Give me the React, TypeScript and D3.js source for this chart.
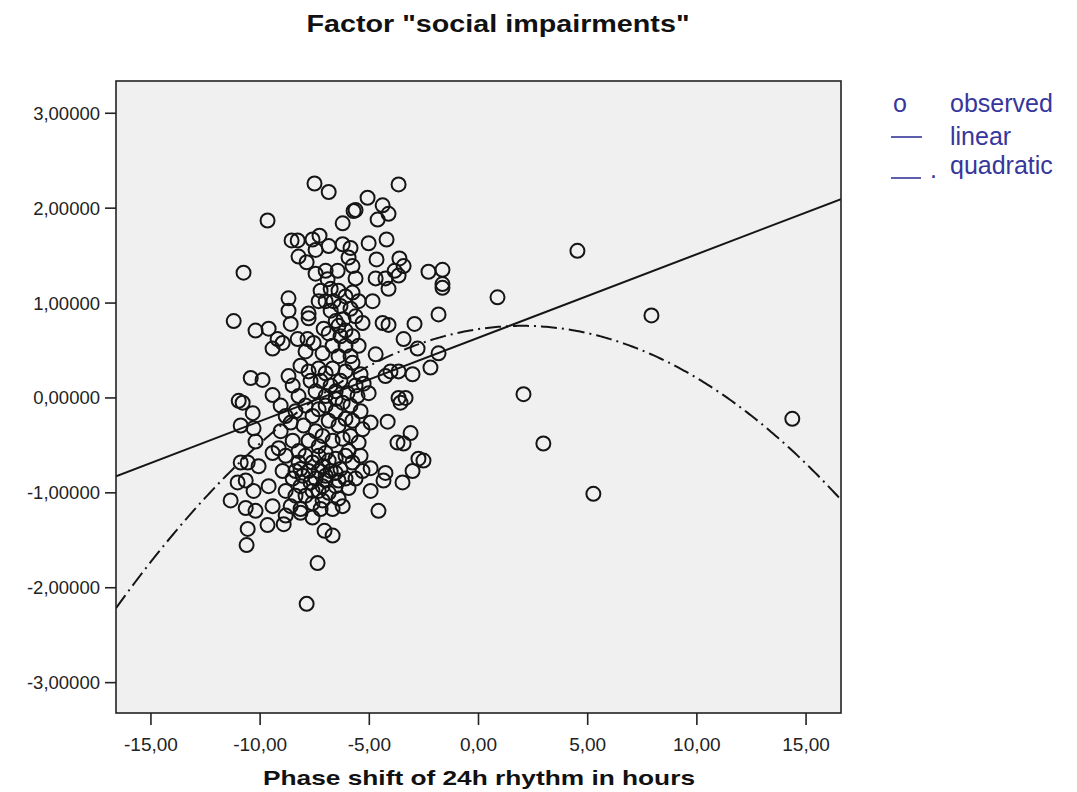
import React from "react";
import * as d3 from "d3";

// observed points: [phase shift (h), factor score]
const observed: [number, number][] = [
  [-7.51, 2.26], [-6.86, 2.17], [-3.66, 2.25], [-5.08, 2.11], [-5.63, 1.98], [-5.72, 1.97], [-4.39, 2.03], [-4.12, 1.94],
  [-4.62, 1.88], [-6.22, 1.84], [-9.66, 1.87], [-8.56, 1.66], [-8.28, 1.66], [-7.6, 1.67], [-7.28, 1.71], [-6.86, 1.6],
  [-8.24, 1.49], [-7.87, 1.43], [-7.46, 1.56], [-10.76, 1.32], [-7.46, 1.31], [-7.0, 1.34], [-6.91, 1.25], [-6.22, 1.62],
  [-5.86, 1.58], [-5.03, 1.63], [-4.21, 1.67], [-5.95, 1.48], [-4.67, 1.46], [-3.62, 1.47], [-3.43, 1.39], [-3.84, 1.34],
  [-5.77, 1.39], [-6.45, 1.34], [-5.63, 1.26], [-4.71, 1.26], [-4.26, 1.26], [-3.66, 1.29], [-2.29, 1.33], [-1.65, 1.35],
  [-1.65, 1.2],
  [-8.7, 1.05], [-8.7, 0.92], [-8.6, 0.78], [-11.21, 0.81], [-10.21, 0.71], [-9.61, 0.73], [-9.2, 0.62], [-9.43, 0.52],
  [-8.97, 0.58], [-8.28, 0.62], [-7.83, 0.62], [-7.55, 0.58], [-7.78, 0.89], [-7.78, 0.84], [-7.09, 0.73], [-7.0, 1.02],
  [-7.92, 0.49], [-8.15, 0.34], [-10.43, 0.21], [-9.89, 0.19], [-9.43, 0.03], [-10.98, -0.03], [-8.7, 0.23], [-8.51, 0.13],
  [-8.24, 0.02],
  [-6.41, 1.13], [-6.09, 1.07], [-5.77, 1.11], [-6.32, 0.97], [-5.86, 0.94], [-5.49, 1.02], [-6.18, 0.83], [-5.63, 0.86],
  [-5.31, 0.79], [-6.54, 0.81], [-6.77, 1.15], [-6.64, 1.02],
  [-4.85, 1.02], [-4.12, 1.15], [-1.65, 1.16], [-1.83, 0.88], [-4.39, 0.79], [-4.12, 0.77], [-2.93, 0.78], [-3.43, 0.62],
  [-2.79, 0.52], [-1.83, 0.47], [-2.2, 0.32], [-3.02, 0.25], [-4.71, 0.46], [-4.03, 0.28], [-4.26, 0.23], [-3.66, 0.28],
  [-5.03, 0.05], [-3.66, 0.0], [-3.34, 0.0], [-6.09, 0.55], [-5.77, 0.37], [-5.4, 0.25], [-5.26, 0.15], [-6.0, 0.05],
  [-7.32, 0.31], [-7.0, 0.26], [-6.68, 0.31], [-7.23, 0.18], [-6.77, 0.13], [-7.46, 0.07], [-7.0, 0.02], [-6.54, 0.07],
  [-7.69, 0.18], [-7.78, 0.28],
  [-10.8, -0.05], [-10.34, -0.16], [-10.89, -0.29], [-10.3, -0.32], [-10.21, -0.46], [-8.6, -0.26], [-9.43, -0.58],
  [-9.15, -0.53], [-10.89, -0.68], [-10.57, -0.68], [-10.07, -0.72], [-11.03, -0.89], [-10.66, -0.87], [-10.3, -0.98],
  [-9.61, -0.93], [-11.35, -1.08], [-10.66, -1.16], [-10.21, -1.19], [-9.43, -1.14],
  [-4.16, -0.25], [-4.94, -0.26], [-3.57, -0.05], [-3.11, -0.37], [-3.71, -0.47], [-3.43, -0.48], [-2.75, -0.64],
  [-2.52, -0.66], [-3.02, -0.77], [-3.48, -0.89], [-4.26, -0.79], [-4.35, -0.87], [-4.94, -0.74], [-4.94, -0.98],
  [-4.58, -1.19], [-5.63, -0.85], [-5.95, -0.95],
  [-10.57, -1.38], [-10.62, -1.55], [-9.66, -1.34], [-8.92, -1.33], [-7.6, -1.26], [-7.05, -1.4], [-6.68, -1.45],
  [-7.37, -1.74], [-7.87, -2.17],
  [0.87, 1.06], [4.53, 1.55], [7.92, 0.87], [2.06, 0.04], [2.97, -0.48], [5.26, -1.01], [14.37, -0.22],
  [-9.06, -0.08], [-8.83, -0.19], [-8.38, -0.14], [-9.06, -0.35], [-8.51, -0.45], [-8.83, -0.61], [-8.24, -0.56],
  [-8.97, -0.77], [-8.51, -0.85], [-8.15, -0.75], [-8.83, -0.98], [-8.38, -1.03], [-8.6, -1.14], [-8.15, -1.21],
  [-8.83, -1.24], [-7.92, -0.08], [-7.6, -0.19], [-7.32, -0.12], [-8.01, -0.29], [-7.46, -0.35], [-7.78, -0.45],
  [-7.32, -0.51], [-7.92, -0.61], [-7.6, -0.68], [-7.32, -0.77], [-8.05, -0.82], [-7.69, -0.89], [-7.32, -0.98],
  [-7.92, -1.03], [-7.6, -1.11], [-7.23, -1.17], [-8.15, -1.17], [-7.0, -0.08], [-6.54, -0.14], [-6.22, -0.05],
  [-6.86, -0.24], [-6.41, -0.29], [-6.09, -0.22], [-7.14, -0.4], [-6.68, -0.45], [-6.22, -0.43], [-7.0, -0.58],
  [-6.54, -0.64], [-6.09, -0.61], [-7.14, -0.72], [-6.77, -0.77], [-6.32, -0.75], [-7.0, -0.87], [-6.54, -0.93],
  [-6.09, -0.85], [-6.86, -1.0], [-6.41, -1.06], [-7.14, -1.08], [-6.68, -1.17], [-6.22, -1.14], [-5.86, -0.08],
  [-5.4, -0.14], [-5.77, -0.24], [-5.31, -0.33], [-5.86, -0.4], [-5.49, -0.47], [-5.95, -0.56], [-5.4, -0.61],
  [-5.77, -0.68], [-5.31, -0.77], [-7.23, 1.13], [-7.32, 1.02], [-6.77, 0.92], [-6.41, 0.76], [-6.86, 0.68],
  [-6.32, 0.65], [-6.68, 0.55], [-7.14, 0.47], [-6.09, 0.71], [-5.77, 0.65], [-5.49, 0.55], [-5.86, 0.44],
  [-6.41, 0.44], [-6.09, 0.28], [-5.63, 0.13], [-6.32, 0.18], [-6.54, -0.01], [-5.54, 0.02],
  [-8.24, -0.68], [-7.78, -0.77], [-7.46, -0.85], [-7.14, -0.93], [-6.86, -0.66], [-6.54, -0.79], [-8.15, -0.93],
  [-7.6, -0.98], [-7.0, -0.82], [-6.41, -0.87], [-8.38, -0.77], [-7.32, -0.61],
];

const xTicks = [-15, -10, -5, 0, 5, 10, 15];
const yTicks = [3, 2, 1, 0, -1, -2, -3];
const linearFit = { intercept: 0.635, slope: 0.088 };
const quadraticFit = { a: 0.7256, b: 0.0344, c: -0.0086 };
const legendLabels = ["observed", "linear", "quadratic"];
const titleText = 'Factor "social impairments"';
const xAxisTitle = "Phase shift of 24h rhythm in hours";

export default function App() {
  const W = 1077, H = 792;
  const left = 116, right = 841, top = 81, bottom = 713;
  const x = d3.scaleLinear().domain([-16.6, 16.6]).range([left, right]);
  const y = d3.scaleLinear().domain([-3.32, 3.34]).range([bottom, top]);
  const fmtY = (v: number) => d3.format(".5f")(v).replace(".", ",").replace("\u2212", "-");
  const fmtX = (v: number) => d3.format(".2f")(v).replace(".", ",").replace("\u2212", "-");
  const [x0, x1] = x.domain();
  const line = d3.line<[number, number]>().x((d) => x(d[0])).y((d) => y(d[1]));
  const linPts: [number, number][] = [x0, x1].map((v) => [v, linearFit.intercept + linearFit.slope * v]);
  const quadPts: [number, number][] = d3.range(x0, x1 + 0.001, 0.1).map((v) => [v, quadraticFit.a + quadraticFit.b * v + quadraticFit.c * v * v]);
  const font = "'Liberation Sans', Arial, sans-serif";
  const blue = "#36369c";

  return (
    <svg width={W} height={H} style={{ position: "absolute", left: 0, top: 0, background: "#fff" }} fontFamily={font}>
      <text x={498} y={32} textAnchor="middle" fontSize={23} fontWeight="bold" textLength={383} lengthAdjust="spacingAndGlyphs" fill="#111">{titleText}</text>
      <rect x={left} y={top} width={right - left} height={bottom - top} fill="#f0f0f0" />
      <defs>
        <clipPath id="plotclip"><rect x={left} y={top} width={right - left} height={bottom - top} /></clipPath>
      </defs>
      <g clipPath="url(#plotclip)">
        {observed.map((d, i) => (
          <circle key={i} cx={x(d[0])} cy={y(d[1])} r={7} fill="none" stroke="#151515" strokeWidth={2} />
        ))}
        <path d={line(linPts) || ""} fill="none" stroke="#151515" strokeWidth={2} />
        <path d={line(quadPts) || ""} fill="none" stroke="#151515" strokeWidth={2} strokeDasharray="16,5,2,5" />
      </g>
      <rect x={left} y={top} width={right - left} height={bottom - top} fill="none" stroke="#222" strokeWidth={1.6} />
      {yTicks.map((t) => (
        <g key={t}>
          <line x1={left - 11} x2={left} y1={y(t)} y2={y(t)} stroke="#222" strokeWidth={1.6} />
          <text x={left - 16} y={y(t)} dy="0.35em" textAnchor="end" fontSize={18.5} fill="#222">{fmtY(t)}</text>
        </g>
      ))}
      {xTicks.map((t) => (
        <g key={t}>
          <line x1={x(t)} x2={x(t)} y1={bottom} y2={bottom + 12} stroke="#222" strokeWidth={1.6} />
          <text x={x(t)} y={751} textAnchor="middle" fontSize={19} fill="#222">{fmtX(t)}</text>
        </g>
      ))}
      <text x={479} y={785} textAnchor="middle" fontSize={21} fontWeight="bold" textLength={432} lengthAdjust="spacingAndGlyphs" fill="#111">{xAxisTitle}</text>
      <g fill={blue} fontSize={25}>
        <text x={893} y={112}>o</text>
        <text x={950} y={112}>{legendLabels[0]}</text>
        <line x1={891} x2={922} y1={137} y2={137} stroke={blue} strokeWidth={1.6} />
        <text x={950} y={145}>{legendLabels[1]}</text>
        <line x1={891} x2={921} y1={178} y2={178} stroke={blue} strokeWidth={1.6} />
        <text x={930} y={178}>.</text>
        <text x={950} y={174}>{legendLabels[2]}</text>
      </g>
    </svg>
  );
}
